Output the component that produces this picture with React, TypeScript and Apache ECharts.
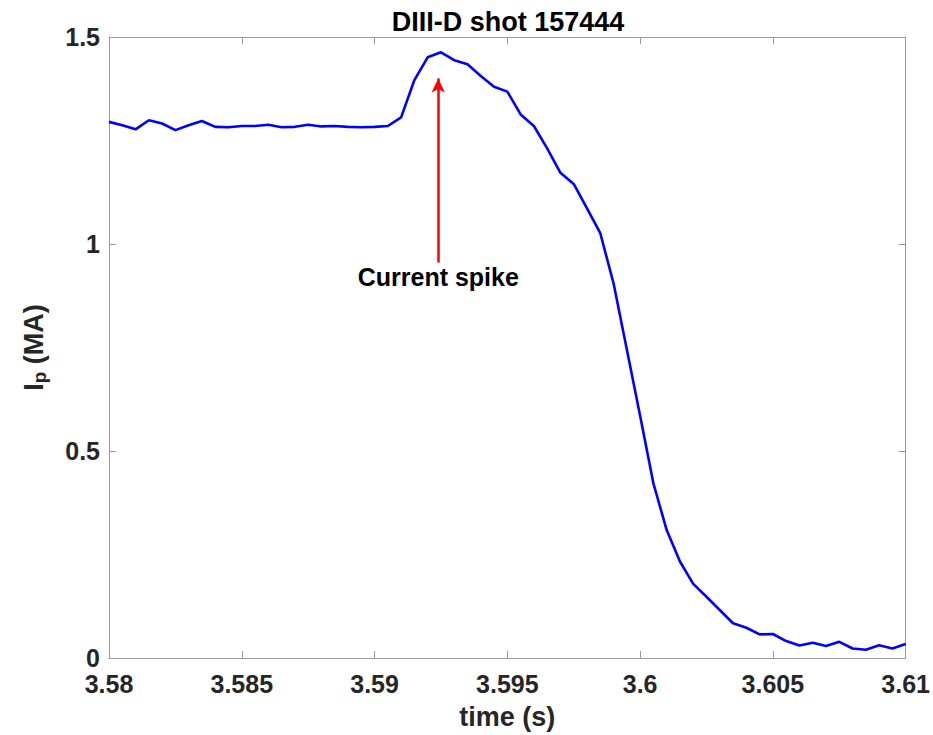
import React, { useEffect, useRef } from "react";
import * as echarts from "echarts";

const times: number[] = [];
for (let i = 0; i <= 60; i++) times.push(Number((3.58 + i * 0.0005).toFixed(4)));

const current = [
  1.295, 1.287, 1.277, 1.299, 1.291, 1.275, 1.287, 1.297, 1.283, 1.282,
  1.285, 1.285, 1.288, 1.282, 1.283, 1.288, 1.284, 1.285, 1.283, 1.282,
  1.283, 1.285, 1.306, 1.396, 1.451, 1.463, 1.444, 1.434, 1.406, 1.38,
  1.368, 1.313, 1.285, 1.231, 1.172, 1.145, 1.086, 1.026, 0.905, 0.745,
  0.585, 0.422, 0.309, 0.233, 0.179, 0.148, 0.116, 0.084, 0.073, 0.057,
  0.058, 0.041, 0.03, 0.037, 0.029, 0.039, 0.023, 0.02, 0.031, 0.023,
  0.034,
];

const xTicks = [3.58, 3.585, 3.59, 3.595, 3.6, 3.605, 3.61];
const yTicks = [0, 0.5, 1, 1.5];

const annotationX = 3.5924;
const arrowFrom = 0.955;
const arrowTo = 1.4;
const annotationText = "Current spike";

const FONT = "'Liberation Sans', Arial, Helvetica, sans-serif";
const AXIS_COLOR = "#9a9a9a";
const TEXT_COLOR = "#262626";

export default function App() {
  const ref = useRef<HTMLDivElement>(null);
  useEffect(() => {
    if (!ref.current) return;
    const chart = echarts.init(ref.current, undefined, { renderer: "svg" });
    const fmt = (v: number) => parseFloat(v.toFixed(4)).toString();
    const baseX = {
      type: "value" as const,
      min: xTicks[0],
      max: xTicks[xTicks.length - 1],
      interval: 0.005,
      axisLine: { show: true, onZero: false, lineStyle: { color: AXIS_COLOR, width: 1 } },
      axisTick: { show: true, inside: true, length: 7, lineStyle: { color: AXIS_COLOR } },
      splitLine: { show: false },
    };
    const baseY = {
      type: "value" as const,
      min: yTicks[0],
      max: yTicks[yTicks.length - 1],
      interval: 0.5,
      axisLine: { show: true, onZero: false, lineStyle: { color: AXIS_COLOR, width: 1 } },
      axisTick: { show: true, inside: true, length: 7, lineStyle: { color: AXIS_COLOR } },
      splitLine: { show: false },
    };
    chart.setOption({
      animation: false,
      backgroundColor: "#ffffff",
      title: {
        text: "DIII-D shot 157444",
        left: 503,
        top: 3,
        textAlign: "center",
        textStyle: { fontFamily: FONT, fontWeight: "bold", fontSize: 27, color: "#000" },
      },
      grid: { left: 102, right: 25, top: 37, bottom: 77, containLabel: false },
      xAxis: [
        {
          ...baseX,
          position: "bottom",
          name: "time (s)",
          nameLocation: "middle",
          nameGap: 45,
          nameTextStyle: { fontFamily: FONT, fontWeight: "bold", fontSize: 27, color: TEXT_COLOR },
          axisLabel: {
            margin: 13,
            fontFamily: FONT,
            fontWeight: "bold",
            fontSize: 25,
            color: TEXT_COLOR,
            formatter: (v: number) => fmt(v),
          },
        },
        { ...baseX, position: "top", axisLabel: { show: false } },
      ],
      yAxis: [
        {
          ...baseY,
          position: "left",
          name: "{a|I}{s|p}{a| (MA)}",
          nameLocation: "middle",
          nameGap: 60,
          nameRotate: 90,
          nameTextStyle: {
            fontFamily: FONT,
            fontWeight: "bold",
            fontSize: 27,
            color: TEXT_COLOR,
            rich: {
              a: { fontFamily: FONT, fontWeight: "bold", fontSize: 27, color: TEXT_COLOR, lineHeight: 30, verticalAlign: "middle" },
              s: { fontFamily: FONT, fontWeight: "bold", fontSize: 19, color: TEXT_COLOR, lineHeight: 30, padding: [22, 0, 0, 0], verticalAlign: "bottom" },
            },
          },
          axisLabel: {
            margin: 9,
            fontFamily: FONT,
            fontWeight: "bold",
            fontSize: 25,
            color: TEXT_COLOR,
            formatter: (v: number) => fmt(v),
          },
        },
        { ...baseY, position: "right", axisLabel: { show: false } },
      ],
      series: [
        {
          type: "line",
          data: times.map((t, i) => [t, current[i]]),
          showSymbol: false,
          lineStyle: { color: "#0000ff", width: 2.6 },
          itemStyle: { color: "#0000ff" },
          markLine: {
            silent: true,
            symbol: ["none", "arrow"],
            symbolSize: [10, 14],
            lineStyle: { color: "#ff0000", width: 2.5, type: "solid" },
            label: {
              show: true,
              position: "start",
              distance: 2,
              formatter: annotationText,
              fontFamily: FONT,
              fontWeight: "bold",
              fontSize: 25,
              color: "#000",
            },
            data: [[{ coord: [annotationX, arrowFrom] }, { coord: [annotationX, arrowTo] }]],
          },
        },
      ],
    });
    return () => chart.dispose();
  }, []);
  return (
    <div
      ref={ref}
      style={{ position: "fixed", left: 0, top: 0, width: 933, height: 735 }}
    />
  );
}
